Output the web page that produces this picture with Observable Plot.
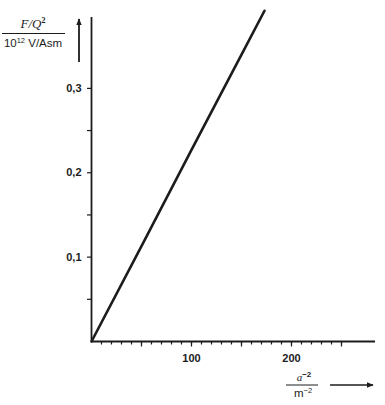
<!DOCTYPE html>
<html>
<head>
<meta charset="utf-8">
<script src="https://cdn.jsdelivr.net/npm/d3@7"></script>
<script src="https://cdn.jsdelivr.net/npm/@observablehq/plot@0.6"></script>
<style>
  body { margin: 0; background: #fff; }
  #wrap { position: relative; width: 385px; height: 405px; }
  #wrap svg { position: absolute; left: 0; top: 0; }
  #ann { pointer-events: none; }
</style>
</head>
<body>
<div id="wrap"></div>
<script>
// Data
const aInv2 = [0, 50, 100, 150, 173];          // a^-2 in m^-2
const fq2   = [0, 0.113, 0.227, 0.34, 0.392];   // F/Q^2 in 10^12 V/Asm
const xLabelTicks = [100, 200];
const xMinorTicks = d3.range(10, 251, 10);
const xMidTicks = [50, 100, 150, 200, 250];
const yLabelTicks = [0.1, 0.2, 0.3];
const yMinorTicks = [0.05, 0.15, 0.25];

const data = aInv2.map((x, i) => ({x, y: fq2[i]}));
const ink = "#1c1c1c";
const font = "'Liberation Sans', Arial, sans-serif";
const serif = "'Liberation Serif', 'Times New Roman', serif";

const chart = Plot.plot({
  width: 385,
  height: 405,
  marginLeft: 91,
  marginRight: 10,
  marginTop: 17,
  marginBottom: 64,
  style: {fontFamily: font, color: ink, background: "transparent", overflow: "visible"},
  x: {domain: [0, 284]},
  y: {domain: [0, 0.384]},
  marks: [
    Plot.axisX({ticks: xMinorTicks, tickSize: 3.5, tickFormat: () => "", label: null, strokeWidth: 1.2}),
    Plot.axisX({ticks: xMidTicks, tickSize: 5.5, tickFormat: () => "", label: null, strokeWidth: 1.2}),
    Plot.axisX({ticks: xLabelTicks, tickSize: 0, tickPadding: 13, label: null, fontSize: 11, fontWeight: "bold"}),
    Plot.axisY({ticks: yMinorTicks, tickSize: 4, tickFormat: () => "", label: null, strokeWidth: 1.2}),
    Plot.axisY({ticks: yLabelTicks, tickSize: 4, tickPadding: 6, label: null, fontSize: 11, fontWeight: "bold",
      tickFormat: d => String(d).replace(".", ","), strokeWidth: 1.2}),
    Plot.ruleX([0], {stroke: ink, strokeWidth: 1.8}),
    Plot.ruleY([0], {stroke: ink, strokeWidth: 1.8}),
    Plot.line(data, {x: "x", y: "y", stroke: ink, strokeWidth: 2.6})
  ]
});
document.getElementById("wrap").appendChild(chart);

// Axis titles with arrows (annotation overlay)
const ns = "http://www.w3.org/2000/svg";
const ann = document.createElementNS(ns, "svg");
ann.setAttribute("id", "ann");
ann.setAttribute("width", 385);
ann.setAttribute("height", 405);
ann.innerHTML = `
  <defs>
    <marker id="ah" viewBox="0 0 10 10" refX="9" refY="5" markerWidth="7" markerHeight="8" orient="auto-start-reverse" markerUnits="userSpaceOnUse">
      <path d="M0,1 L10,5 L0,9 z" fill="${ink}"/>
    </marker>
  </defs>
  <text x="33" y="28" text-anchor="middle" font-family="${serif}" font-style="italic" font-size="13" fill="${ink}">F/Q<tspan font-style="normal" font-weight="bold" font-size="8" dy="-5">2</tspan></text>
  <line x1="2" x2="65" y1="33.5" y2="33.5" stroke="${ink}" stroke-width="1"/>
  <text x="33" y="47" text-anchor="middle" font-family="${font}" font-size="11.5" fill="${ink}">10<tspan font-size="7.5" dy="-4">12</tspan><tspan dy="4"> V/Asm</tspan></text>
  <line x1="79" x2="79" y1="62" y2="19" stroke="${ink}" stroke-width="1.8" marker-end="url(#ah)"/>

  <text x="304" y="381" text-anchor="middle" font-family="${serif}" font-style="italic" font-size="11" fill="${ink}">a<tspan font-style="normal" font-size="8" dy="-4" font-family="${font}" font-weight="bold">−2</tspan></text>
  <line x1="286" x2="318" y1="385" y2="385" stroke="${ink}" stroke-width="1"/>
  <text x="303" y="397" text-anchor="middle" font-family="${font}" font-size="11.5" fill="${ink}">m<tspan font-size="7.5" dy="-4">−2</tspan></text>
  <line x1="330" x2="373" y1="385" y2="385" stroke="${ink}" stroke-width="1.6" marker-end="url(#ah)"/>
`;
document.getElementById("wrap").appendChild(ann);
</script>
</body>
</html>
